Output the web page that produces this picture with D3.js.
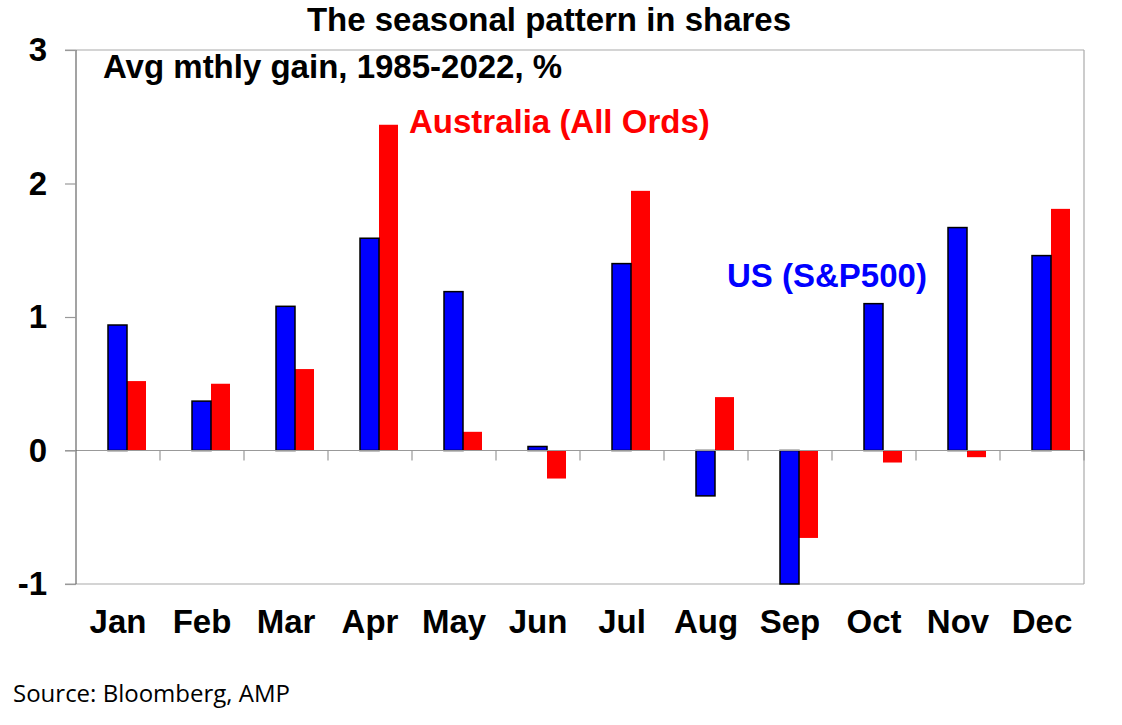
<!DOCTYPE html>
<html>
<head>
<meta charset="utf-8">
<script src="https://cdn.jsdelivr.net/npm/d3@7"></script>
<style>
  html, body { margin: 0; padding: 0; background: #fff; }
  svg { display: block; font-family: "Liberation Sans", Arial, sans-serif; }
</style>
</head>
<body>
<div id="chart"></div>
<script>
// --- Data ---
const months = ["Jan", "Feb", "Mar", "Apr", "May", "Jun", "Jul", "Aug", "Sep", "Oct", "Nov", "Dec"];
const usValues = [0.94, 0.37, 1.08, 1.59, 1.19, 0.03, 1.40, -0.34, -1.00, 1.10, 1.67, 1.46];
const ausValues = [0.52, 0.50, 0.61, 2.44, 0.14, -0.21, 1.945, 0.40, -0.655, -0.09, -0.05, 1.81];
const yTicks = [-1, 0, 1, 2, 3];

const width = 1122, height = 725;
const margin = { top: 50, right: 38, bottom: 141, left: 76 };
const innerWidth = width - margin.left - margin.right;
const innerHeight = height - margin.top - margin.bottom;

const svg = d3.select("#chart").append("svg")
  .attr("width", width)
  .attr("height", height);

const g = svg.append("g")
  .attr("transform", `translate(${margin.left},${margin.top})`);

// --- Scales ---
const xScale = d3.scaleBand().domain(months).range([0, innerWidth]);
const bw = xScale.bandwidth();
const subScale = d3.scaleBand().domain(["us", "aus"]).range([bw * 32 / 84, bw * 70 / 84]);
const yScale = d3.scaleLinear().domain([-1, 3]).range([innerHeight, 0]);

// --- Frame ---
g.append("line") // top
  .attr("x1", -11).attr("x2", innerWidth)
  .attr("y1", 0).attr("y2", 0)
  .attr("stroke", "#aaa").attr("stroke-width", 1.2);
g.append("line") // right
  .attr("x1", innerWidth).attr("x2", innerWidth)
  .attr("y1", 0).attr("y2", innerHeight)
  .attr("stroke", "#aaa").attr("stroke-width", 1.2);
g.append("line") // bottom
  .attr("x1", -11).attr("x2", innerWidth)
  .attr("y1", innerHeight).attr("y2", innerHeight)
  .attr("stroke", "#aaa").attr("stroke-width", 1.2);

// --- Bars ---
const rows = months.map((m, i) => ({ month: m, us: usValues[i], aus: ausValues[i] }));

g.selectAll(".bar-aus")
  .data(rows)
  .join("rect")
  .attr("class", "bar-aus")
  .attr("x", d => xScale(d.month) + subScale("aus"))
  .attr("width", subScale.bandwidth())
  .attr("y", d => yScale(Math.max(0, d.aus)))
  .attr("height", d => Math.abs(yScale(d.aus) - yScale(0)))
  .attr("fill", "#ff0000");

g.selectAll(".bar-us")
  .data(rows)
  .join("rect")
  .attr("class", "bar-us")
  .attr("x", d => xScale(d.month) + subScale("us"))
  .attr("width", subScale.bandwidth())
  .attr("y", d => yScale(Math.max(0, d.us)))
  .attr("height", d => Math.abs(yScale(d.us) - yScale(0)))
  .attr("fill", "#0000ff")
  .attr("stroke", "#000")
  .attr("stroke-width", 1.5);

// --- Zero line with category ticks ---
g.append("g")
  .attr("transform", `translate(0,${yScale(0)})`)
  .call(d3.axisBottom(xScale).tickSize(0).tickFormat(""))
  .call(a => a.select(".domain").attr("stroke", "#999").attr("stroke-width", 1.2).attr("d", `M-11,0H${innerWidth}`));

g.selectAll(".cat-tick")
  .data(months)
  .join("line")
  .attr("class", "cat-tick")
  .attr("x1", d => xScale(d) + bw)
  .attr("x2", d => xScale(d) + bw)
  .attr("y1", yScale(0))
  .attr("y2", yScale(0) + 10)
  .attr("stroke", "#999")
  .attr("stroke-width", 1.2);

// --- Y axis ---
g.append("g")
  .call(d3.axisLeft(yScale).tickValues(yTicks).tickSize(11).tickPadding(18).tickFormat(d => String(d)))
  .call(a => a.select(".domain").attr("stroke", "#666").attr("stroke-width", 1.2).attr("d", `M0,0V${innerHeight}`))
  .call(a => a.selectAll(".tick line").attr("stroke", "#999").attr("stroke-width", 1.2))
  .call(a => a.selectAll(".tick text")
    .attr("font-size", "33px").attr("font-weight", "bold").attr("fill", "#000")
    .attr("font-family", "Liberation Sans, Arial, sans-serif"));

// --- X labels ---
g.selectAll(".month-label")
  .data(months)
  .join("text")
  .attr("class", "month-label")
  .attr("x", d => xScale(d) + bw / 2)
  .attr("y", innerHeight + 49)
  .attr("text-anchor", "middle")
  .attr("font-size", "33px")
  .attr("font-weight", "bold")
  .attr("fill", "#000")
  .text(d => d);

// --- Titles & labels ---
svg.append("text")
  .attr("x", 549).attr("y", 31)
  .attr("text-anchor", "middle")
  .attr("font-size", "33px").attr("font-weight", "bold")
  .text("The seasonal pattern in shares");

svg.append("text")
  .attr("x", 103).attr("y", 78)
  .attr("font-size", "33px").attr("font-weight", "bold")
  .text("Avg mthly gain, 1985-2022, %");

svg.append("text")
  .attr("x", 409).attr("y", 133)
  .attr("font-size", "33px").attr("font-weight", "bold")
  .attr("fill", "#ff0000")
  .text("Australia (All Ords)");

svg.append("text")
  .attr("x", 727).attr("y", 287)
  .attr("font-size", "33px").attr("font-weight", "bold")
  .attr("fill", "#0000ff")
  .text("US (S&P500)");

svg.append("text")
  .attr("x", 13).attr("y", 702)
  .attr("font-size", "24px")
  .attr("font-family", "Open Sans, sans-serif")
  .attr("fill", "#000")
  .text("Source: Bloomberg, AMP");
</script>
</body>
</html>
